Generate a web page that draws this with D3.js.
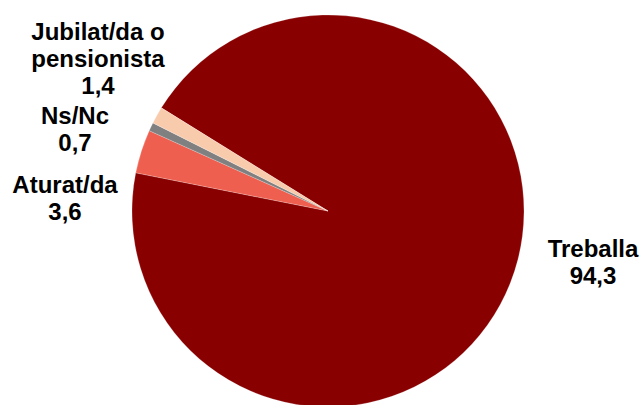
<!DOCTYPE html>
<html>
<head>
<meta charset="utf-8">
<script src="https://cdn.jsdelivr.net/npm/d3@7/dist/d3.min.js"></script>
<style>
  html, body { margin: 0; padding: 0; background: #fff; }
  svg { display: block; }
  .lbl { font-family: "Liberation Sans", Arial, sans-serif; font-weight: bold; font-size: 24px; fill: #000; }
</style>
</head>
<body>
<svg id="chart" width="640" height="405"></svg>
<script>
// Situació laboral (%)
const categories = ["Treballa", "Aturat/da", "Ns/Nc", "Jubilat/da o pensionista"];
const values = [94.3, 3.6, 0.7, 1.4];
const valueLabels = ["94,3", "3,6", "0,7", "1,4"];
const labelLines = [["Treballa"], ["Aturat/da"], ["Ns/Nc"], ["Jubilat/da o", "pensionista"]];
const colors = ["#880000", "#EF5F4F", "#808080", "#F8CBAD"];

const width = 640, height = 405;
const cx = 328, cy = 211, radius = 196;
const startDeg = -58.25;

const svg = d3.select("#chart");
const g = svg.append("g").attr("transform", `translate(${cx},${cy})`);

const data = categories.map((c, i) => ({ cat: c, value: values[i], i }));

const pie = d3.pie()
  .value(d => d.value)
  .sort(null)
  .startAngle(startDeg * Math.PI / 180)
  .endAngle((startDeg + 360) * Math.PI / 180);

const arc = d3.arc().innerRadius(0).outerRadius(radius);

const color = d3.scaleOrdinal().domain(categories).range(colors);

g.selectAll("path.slice")
  .data(pie(data))
  .join("path")
  .attr("class", "slice")
  .attr("d", arc)
  .attr("fill", d => color(d.data.cat))
  .attr("stroke", "#ffffff")
  .attr("stroke-opacity", 0.35)
  .attr("stroke-width", 0.6);

// Label placement (block centre x, first baseline y) in page coordinates
const labelPos = [
  { x: 593, y: 256.5 },
  { x: 65, y: 193 },
  { x: 75, y: 124 },
  { x: 98, y: 39.5 }
];
const lineH = 27;

const labels = svg.selectAll("text.lbl")
  .data(data)
  .join("text")
  .attr("class", "lbl")
  .attr("text-anchor", "middle")
  .attr("x", d => labelPos[d.i].x)
  .attr("y", d => labelPos[d.i].y);

labels.each(function(d) {
  const t = d3.select(this);
  const lines = labelLines[d.i].concat([valueLabels[d.i]]);
  lines.forEach((ln, k) => {
    t.append("tspan")
      .attr("x", labelPos[d.i].x)
      .attr("dy", k === 0 ? 0 : lineH)
      .text(ln);
  });
});
</script>
</body>
</html>
